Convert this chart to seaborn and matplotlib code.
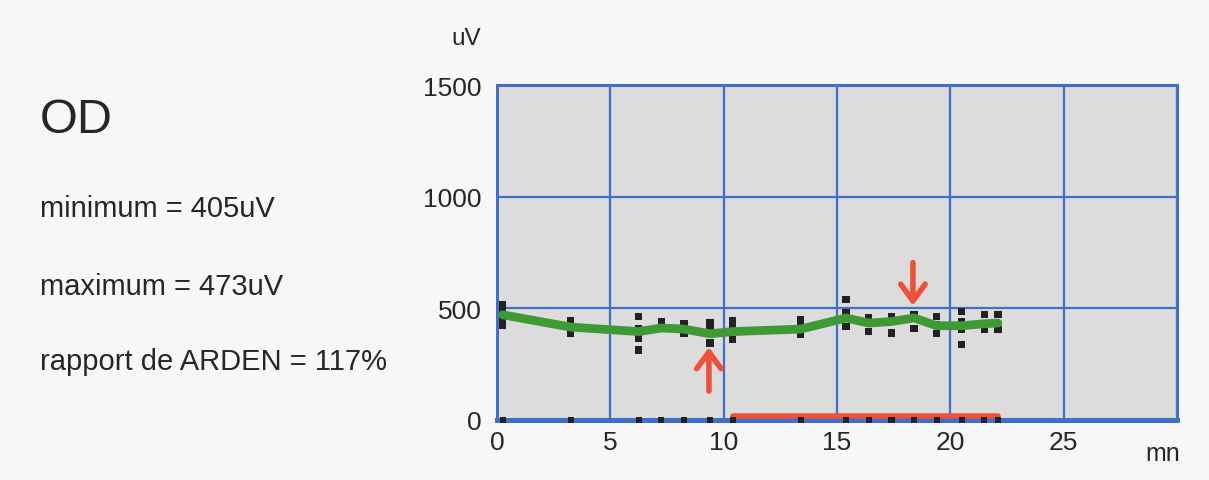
import matplotlib
matplotlib.use("Agg")
import matplotlib.pyplot as plt
import seaborn as sns
import pandas as pd

# ---- data ----
times = [0.25, 3.25, 6.25, 7.25, 8.25, 9.4, 10.4, 13.4, 15.4, 16.4, 17.4, 18.4, 19.4, 20.5, 21.5, 22.1]
mean_uv = [471, 416, 396, 412, 407, 386, 396, 407, 457, 434, 441, 457, 422, 422, 431, 434]
single_uv = [
    [515, 495, 445, 425],
    [445, 390],
    [464, 407, 367, 314],
    [439],
    [430, 389],
    [435, 418, 344],
    [446, 412, 359],
    [449, 430, 382],
    [539, 479, 419],
    [457, 396],
    [464, 389],
    [471, 409],
    [464, 427, 386],
    [486, 441, 404, 337],
    [471, 404],
    [471, 404],
]
light_on = [10.4, 22.1]
light_level = 18
trough_t, trough_uv = 9.35, 386
peak_t, peak_uv = 18.35, 457

x_ticks = [0, 5, 10, 15, 20, 25, 30]
x_labels = ["0", "5", "10", "15", "20", "25", ""]
y_ticks = [0, 500, 1000, 1500]
y_labels = ["0", "500", "1000", "1500"]

side_title = "OD"
side_lines = ["minimum = 405uV", "maximum = 473uV", "rapport de ARDEN = 117%"]

# ---- style ----
sns.set_theme(style="white")
plt.rcParams["font.family"] = ["Liberation Sans", "DejaVu Sans"]

BLUE = "#3f6fcc"
GREEN = "#3f9a36"
RED = "#ef5038"
TXT = "#262626"

fig = plt.figure(figsize=(12.09, 4.81), dpi=100, facecolor="#f7f7f7")
ax = fig.add_axes([497 / 1209, 1 - 421 / 481, 680 / 1209, 335 / 481])
ax.set_facecolor("#dcdcdc")

line_df = pd.DataFrame({"t": times, "uv": mean_uv})
rows = [(t, v) for t, vals in zip(times, single_uv) for v in vals]
pts_df = pd.DataFrame(rows, columns=["t", "uv"])
base_df = pd.DataFrame({"t": times, "uv": [0] * len(times)})

sns.lineplot(data=line_df, x="t", y="uv", ax=ax, color=GREEN, lw=6.3,
             solid_joinstyle="round", solid_capstyle="round", zorder=4)
sns.scatterplot(data=pts_df, x="t", y="uv", ax=ax, marker="s", s=28,
                color="#222222", edgecolor="none", zorder=3)
sns.scatterplot(data=base_df, x="t", y="uv", ax=ax, marker="s", s=20,
                color="#222222", edgecolor="none", zorder=6, clip_on=False)

ax.plot(light_on, [light_level, light_level], color=RED, lw=4.0,
        solid_capstyle="round", zorder=5)

arrow_style = "->,head_length=0.55,head_width=0.4"
ax.annotate("", xy=(trough_t, trough_uv - 60), xytext=(trough_t, 130),
            arrowprops=dict(arrowstyle=arrow_style, color=RED, lw=4.0,
                            mutation_scale=22, shrinkA=0, shrinkB=0), zorder=5)
ax.annotate("", xy=(peak_t, peak_uv + 55), xytext=(peak_t, 705),
            arrowprops=dict(arrowstyle=arrow_style, color=RED, lw=4.0,
                            mutation_scale=22, shrinkA=0, shrinkB=0), zorder=5)

ax.set_xlim(0, 30)
ax.set_ylim(0, 1500)
ax.set_xticks(x_ticks)
ax.set_xticklabels(x_labels)
ax.set_yticks(y_ticks)
ax.set_yticklabels(y_labels)
ax.set_xlabel("")
ax.set_ylabel("")
ax.grid(True, color=BLUE, lw=1.6)
ax.set_axisbelow(True)
ax.tick_params(axis="both", length=0, labelsize=19, labelcolor=TXT)
ax.tick_params(axis="x", pad=7)
ax.tick_params(axis="y", pad=11)
for name, sp in ax.spines.items():
    sp.set_visible(True)
    sp.set_color(BLUE)
    sp.set_linewidth(2.2)
ax.spines["bottom"].set_linewidth(3.6)

fig.text(466 / 1209, 1 - 45 / 481, "uV", ha="center", va="baseline",
         fontsize=17.5, color=TXT)
fig.text(1163 / 1209, 1 - 461 / 481, "mn", ha="center", va="baseline",
         fontsize=18, color=TXT)

fig.text(40 / 1209, 1 - 133 / 481, side_title, ha="left", va="baseline",
         fontsize=35, color=TXT)
for yb, s in zip([217, 295, 370], side_lines):
    fig.text(40 / 1209, 1 - yb / 481, s, ha="left", va="baseline",
             fontsize=21, color=TXT)

fig.savefig("out.png", dpi=100, facecolor=fig.get_facecolor())
